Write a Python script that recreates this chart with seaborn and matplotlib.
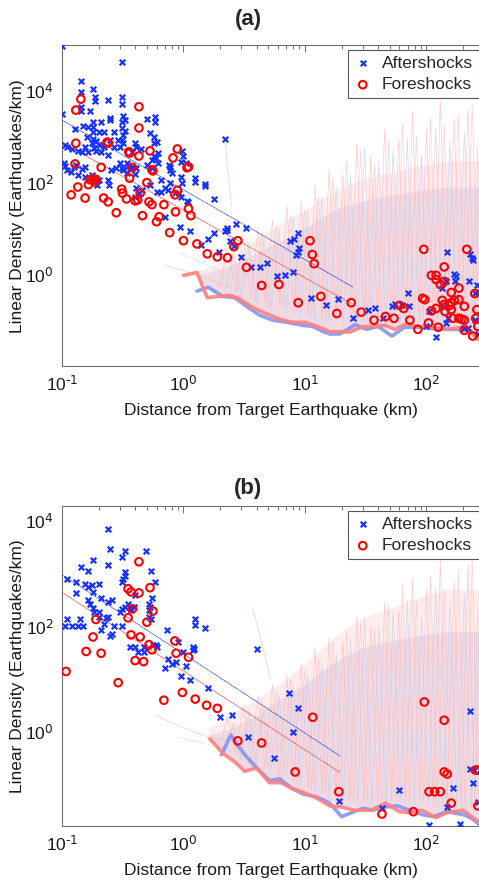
import matplotlib
matplotlib.use("Agg")
import matplotlib.pyplot as plt
import seaborn as sns
from matplotlib.ticker import FixedLocator, NullFormatter, LogLocator, FuncFormatter

# ---- panel (a) data ----
aft_a_x = [0.1, 0.31, 0.143, 0.18, 0.143, 0.187, 0.187, 0.24, 0.31, 0.31, 0.143, 0.143, 0.17, 0.1,
           0.5, 0.58, 0.58, 0.32, 0.33, 0.31, 0.25, 0.25, 0.21, 0.18, 0.15, 0.165, 0.18, 0.18, 0.128,
           0.2, 0.22, 0.27, 0.31, 0.33, 0.32, 0.53, 0.57, 0.6, 0.57, 0.16, 0.18, 0.19, 0.175, 0.2,
           0.155, 0.185, 0.22, 0.25, 0.29, 0.31, 0.32, 0.3, 0.27, 0.105, 0.11, 0.12, 0.135, 0.145,
           0.165, 0.19, 0.21, 0.24, 0.4, 0.41, 0.45, 0.38, 0.62, 0.57, 0.55, 0.59, 0.97, 1.0, 0.95,
           1.05, 0.76, 0.78, 0.3, 0.34, 0.35, 0.38, 0.41, 0.105, 0.125, 0.155, 0.145, 2.2,
           0.103, 0.11, 0.118, 0.13, 0.135, 0.155, 0.175, 0.18, 0.2, 0.195, 0.24, 0.245, 0.255, 0.28,
           0.31, 0.32, 0.36, 0.34, 0.4, 0.5, 0.55, 0.62, 0.77, 0.8, 0.65, 0.77, 0.95, 0.97, 0.53,
           0.6, 0.65, 0.7, 0.75, 0.85, 0.41, 0.46, 0.43, 0.4, 1.25, 1.5, 1.25, 1.5, 0.92, 0.95, 1.1,
           1.06, 1.8, 0.94, 1.13, 1.6, 1.4, 1.97, 2.3, 0.7,
           1.77, 2.2, 2.3, 2.7, 3.3, 2.4, 2.6, 3.0, 3.6, 4.3, 4.9, 5.9, 6.8, 7.9, 7.5, 8.2, 8.7, 9.0,
           8.5, 8.7, 11.2, 15,
           148, 230, 235, 240, 170, 175, 172, 145, 135, 225, 260, 250, 270, 70, 55, 52, 63, 72, 38,
           33, 25, 44, 18.6, 105, 100, 145, 150, 140, 120, 205, 220, 265, 250]
aft_a_y = [95000, 42600, 16400, 11000, 9500, 7400, 6000, 6300, 7400, 5200, 4500, 3650, 3650, 3100,
           2440, 2700, 2100, 2830, 2300, 2100, 2600, 2300, 2100, 2100, 1700, 1630, 1630, 1270, 1480,
           1270, 1270, 1270, 1550, 1330, 1090, 1210, 990, 770, 720, 990, 890, 800, 720, 660,
           600, 560, 600, 850, 850, 850, 720, 600, 600, 660, 600, 540, 490, 465,
           465, 490, 465, 400, 720, 600, 540, 465, 440, 380, 310, 345, 490, 380, 280,
           270, 240, 215, 270, 270, 230, 215, 205, 230, 215, 215, 200, 890,
           270, 185, 170, 240, 145, 130, 145, 125, 112, 87, 112, 87, 185, 205,
           205, 185, 205, 160, 155, 240, 205, 270, 185, 160, 112, 100, 130, 97, 87,
           63, 63, 76, 68, 59, 76, 68, 59, 49, 125, 93, 105, 85, 59, 49, 38,
           40, 44, 11, 8.7, 5.9, 4.4, 3.1, 9.3, 18,
           8.0, 8.6, 10, 12.6, 10, 5.2, 4.2, 2.35, 1.42, 1.42, 1.8, 0.9, 0.95, 1.1, 5.2, 5.9, 8.0, 3.7,
           2.6, 3.0, 0.3, 0.21,
           3.1, 2.8, 2.3, 2.1, 1.0, 0.9, 0.7, 0.72, 0.5, 0.72, 0.57, 0.4, 0.42, 0.4, 0.22, 0.2, 0.21,
           0.2, 0.18, 0.17, 0.11, 0.11, 0.29, 0.155, 0.074, 0.085, 0.11, 0.19, 0.043, 0.066, 0.066,
           0.05, 0.1]

fore_a_x = [0.143, 0.13, 0.43, 0.43, 0.13, 0.235, 0.24, 0.355, 0.36, 0.43, 0.53, 0.89, 0.82, 1.1,
            0.128, 0.21, 0.38, 0.55, 1.07, 0.56, 0.17, 0.18, 0.19, 0.185, 0.165, 0.36, 0.5, 0.135,
            0.119, 0.155, 0.22, 0.24, 0.31, 0.315, 0.34, 0.4, 0.42, 0.44, 0.52, 0.55, 0.28, 0.46,
            0.6, 0.63, 0.69, 0.86, 0.85, 0.89, 1.1, 1.15, 0.77, 1.0, 1.29, 1.57, 1.9, 2.3, 2.8,
            2.6, 3.3, 4.4, 6.1, 8.8, 13.5, 11, 11.5, 11.9, 24, 18.3, 29, 37, 46, 54, 60, 65, 73,
            85, 104, 95, 215, 140, 110, 120, 120, 140, 130, 93, 97, 110, 120, 125, 135, 140, 155,
            160, 142, 160, 160, 185, 170, 185, 205, 165, 185, 195, 205, 250, 260, 255, 265, 240, 205]
fore_a_y = [6600, 3800, 4500, 1550, 720, 760, 720, 470, 440, 380, 490, 540, 345, 220,
            255, 215, 215, 190, 210, 180, 115, 118, 118, 105, 90, 125, 100, 80,
            54, 46, 46, 38, 72, 59, 44, 40, 42, 59, 38, 33, 22, 19,
            14, 18, 33, 23, 54, 68, 27, 19, 8.1, 5.4, 4.6, 2.8, 2.4, 2.3, 5.4,
            4.0, 1.42, 0.57, 0.6, 0.24, 0.33, 5.4, 2.7, 1.7, 0.24, 0.14, 0.15, 0.1, 0.12, 0.11, 0.21,
            0.18, 0.1, 0.063, 0.087, 3.5, 3.5, 1.45, 0.95, 0.95, 0.77, 0.7, 0.6, 0.3, 0.28, 0.16,
            0.18, 0.07, 0.27, 0.22, 0.21, 0.24, 0.155, 0.17, 0.4, 0.5, 0.27, 0.28, 0.2, 0.11, 0.11,
            0.105, 0.1, 0.38, 0.17, 0.11, 0.073, 0.045, 0.06]

# power-law fits (end points)
fit_aft_a_x = [0.1, 25]
fit_aft_a_y = [2300, 0.52]
fit_fore_a_x = [0.11, 24]
fit_fore_a_y = [650, 0.23]

# background level from randomised catalogues (thick lines)
bg_fore_a_x = [1.0, 1.29, 1.57, 2.4, 2.9, 3.7, 4.9, 6.2, 7.9, 10, 12.6, 16, 23.5, 30, 36, 45.5,
               55, 70, 88, 106, 155, 200, 228, 265]
bg_fore_a_y = [0.95, 1.1, 0.31, 0.35, 0.29, 0.19, 0.135, 0.105, 0.09, 0.09, 0.073, 0.057, 0.055,
               0.073, 0.073, 0.077, 0.063, 0.085, 0.07, 0.07, 0.063, 0.07, 0.055, 0.038]
bg_aft_a_x = [1.29, 1.6, 2.1, 2.65, 3.3, 4.2, 5.4, 7.1, 9.6, 11.6, 14, 16, 19.4, 26, 32, 40, 52,
              66, 83, 106, 141, 178, 228, 270]
bg_aft_a_y = [0.43, 0.52, 0.33, 0.31, 0.2, 0.13, 0.1, 0.09, 0.077, 0.073, 0.057, 0.05, 0.05, 0.08,
              0.063, 0.073, 0.045, 0.07, 0.07, 0.066, 0.063, 0.063, 0.057, 0.045]

# spread of the individual random-catalogue curves
haze_a_x = [1.3, 1.6, 2, 2.5, 3, 4, 5, 7, 10, 14, 20, 30, 45, 70, 100, 150, 200, 280]
haze_a_lo = [0.9, 0.5, 0.35, 0.3, 0.25, 0.17, 0.13, 0.1, 0.085, 0.07, 0.06, 0.065, 0.07, 0.075,
             0.07, 0.065, 0.065, 0.045]
haze_a_mid = [1.0, 1.1, 1.3, 1.6, 2, 3, 4, 6, 10, 18, 30, 40, 50, 60, 70, 80, 80, 80]
haze_a_hi = [1.2, 1.4, 1.8, 2.5, 3.5, 6, 9, 15, 25, 45, 80, 120, 160, 200, 250, 300, 300, 300]

spike_x1 = [2.0, 2.3, 2.7, 3.1, 3.6, 4.1, 4.7, 5.4, 6.2, 7.1, 8.1, 9.3, 10.6, 12.1, 13.8, 15.8, 18,
            20.5, 23.4, 26.7, 30.5, 34.8, 39.7, 45.3, 51.7, 59, 67.3, 76.8, 87.6, 100, 114, 130,
            148, 169, 193, 220, 251, 275]
spike_x2 = [2.5, 2.9, 3.4, 3.9, 4.4, 5.0, 5.8, 6.6, 7.6, 8.7, 9.9, 11.3, 12.9, 14.8, 16.9, 19.3, 22,
            25.1, 28.7, 32.7, 37.4, 42.7, 48.7, 55.6, 63.5, 72.5, 82.7, 94.4, 108, 123, 140, 160,
            183, 209, 238, 268]
spike_x3 = [2.2, 2.6, 3.0, 3.5, 4.0, 4.6, 5.3, 6.1, 7.0, 8.0, 9.2, 10.5, 12.0, 13.8, 15.8, 18.1,
            20.7, 23.7, 27.1, 31, 35.5, 40.6, 46.5, 53.2, 60.8, 69.6, 79.6, 91.1, 104, 119, 136,
            156, 179, 205, 234, 265]
spike_fore_a1 = [0.5, 4, 0.4, 6, 0.3, 10, 0.25, 15, 0.2, 30, 0.15, 40, 0.12, 90, 0.1, 200, 0.1, 150,
                 0.09, 700, 0.09, 400, 0.08, 1500, 0.09, 900, 0.08, 3500, 0.09, 1500, 0.08, 6000,
                 0.09, 2500, 0.08, 4000, 0.09, 1200]
spike_fore_a2 = [3, 0.3, 5, 0.25, 8, 0.2, 12, 0.18, 20, 0.14, 25, 0.12, 50, 0.1, 120, 0.1, 300,
                 0.09, 500, 0.09, 250, 0.08, 800, 0.09, 2000, 0.08, 1000, 0.09, 2500, 0.08, 1800,
                 0.09, 3000, 0.08, 5000, 0.09]
spike_aft_a1 = [0.4, 3, 0.3, 4, 0.25, 6, 0.2, 10, 0.15, 18, 0.12, 25, 0.1, 50, 0.09, 80, 0.08, 150,
                0.08, 600, 0.08, 300, 0.07, 500, 0.08, 900, 0.07, 400, 0.08, 1500, 0.07, 800, 0.08,
                1200, 0.07, 600]

# a few stray random-catalogue curves starting left of the envelope
stray_a_x = [[0.68, 1.0, 1.6, 2.5], [0.9, 1.3, 2.0, 3.0], [2.2, 2.35, 2.5]]
stray_a_y = [[1.6, 1.2, 0.8, 0.5], [3.0, 2.0, 1.2, 0.6], [890, 120, 30]]

# ---- panel (b) data ----
aft_b_x = [0.24, 0.25, 0.33, 0.49, 0.31, 0.18, 0.24, 0.143, 0.164, 0.54, 0.33, 0.33, 0.32, 0.31,
           0.11, 0.13, 0.155, 0.175, 0.164, 0.2, 0.18, 0.58, 0.13, 0.21, 0.164, 0.17, 0.18, 0.185,
           0.2, 0.26, 0.24, 0.4, 0.35, 0.33, 0.36, 0.31, 0.3, 0.37, 0.39, 0.55, 0.52, 0.53, 0.52,
           0.54, 0.52, 0.11, 0.14, 0.105, 0.12, 0.135, 0.15, 0.2, 0.23, 0.24, 0.22, 0.21, 0.26,
           0.25, 0.27, 0.31, 1.25, 1.25, 1.5, 0.73, 0.36, 0.4, 0.47, 0.56, 0.59, 0.61, 0.42, 0.47,
           0.9, 1.0, 1.2, 1.22, 1.2, 0.75, 0.86, 0.8, 0.7, 1.05, 0.95, 1.13, 1.6, 2.0, 2.5, 4.0,
           3.4, 7.4, 8.7, 8.0, 5.6, 230, 60, 19, 43, 165, 148, 240, 245, 230, 105, 190, 265]
aft_b_y = [7050, 2950, 2700, 2700, 2080, 1830, 1470, 1340, 1130, 1130, 1080, 910, 800, 700,
           800, 700, 640, 610, 560, 640, 450, 700, 430, 350, 320, 260, 225, 190,
           190, 320, 290, 400, 270, 235, 225, 215, 190, 205, 230, 350, 270, 235, 205,
           140, 150, 140, 140, 100, 100, 100, 100, 150, 145, 150, 110, 87, 72,
           66, 100, 100, 140, 105, 95, 87, 41, 41, 41, 45, 45, 41, 32, 32,
           51, 32, 41, 38, 35, 24, 21.5, 19, 16, 18, 11.7, 9.5, 6.7, 1.9, 2.1, 37,
           0.8, 5.4, 2.9, 1.0, 0.32, 2.5, 0.08, 0.05, 0.037, 0.088, 0.038, 0.11, 0.19, 0.2, 0.017,
           0.018, 0.047]

fore_b_x = [0.43, 0.35, 0.37, 0.43, 0.53, 0.38, 0.56, 0.19, 0.35, 0.5, 0.18, 0.37, 0.44, 0.85,
            0.52, 0.55, 0.158, 0.21, 0.87, 1.1, 0.4, 0.47, 0.108, 0.29, 0.69, 0.98, 1.25, 1.55,
            1.9, 2.8, 4.4, 11.6, 8.3, 96, 140, 19, 140, 148, 105, 117, 130, 160, 255, 262, 265,
            43, 78]
fore_b_y = [1670, 515, 450, 430, 540, 215, 195, 135, 145, 120, 63, 69, 63, 53,
            45, 36, 33.5, 31, 31, 26, 22.5, 21.5, 14, 8.6, 4.0, 5.6, 4.2, 3.2,
            2.8, 0.68, 0.62, 1.9, 0.175, 3.7, 1.67, 0.074, 0.175, 0.16, 0.074, 0.074, 0.074, 0.045,
            0.19, 0.19, 0.04, 0.028, 0.031]

fit_aft_b_x = [0.1, 19.5]
fit_aft_b_y = [950, 0.35]
fit_fore_b_x = [0.1, 19.5]
fit_fore_b_y = [440, 0.17]

bg_fore_b_x = [1.65, 2.1, 2.65, 3.2, 4.0, 5.1, 6.4, 7.7, 10, 12.5, 16, 20, 26, 35, 46, 60, 70, 92,
               120, 148, 200, 240, 270]
bg_fore_b_y = [0.74, 0.4, 0.27, 0.18, 0.21, 0.11, 0.11, 0.087, 0.07, 0.056, 0.04, 0.038, 0.033,
               0.033, 0.045, 0.031, 0.03, 0.033, 0.024, 0.03, 0.033, 0.024, 0.02]
bg_aft_b_x = [2.05, 2.45, 2.7, 3.3, 4.0, 5.1, 6.2, 7.7, 9.6, 12.5, 16, 20, 30, 36, 45, 58, 72, 94,
              113, 148, 205, 237, 270]
bg_aft_b_y = [0.37, 0.88, 0.62, 0.34, 0.21, 0.12, 0.13, 0.087, 0.067, 0.059, 0.045, 0.025, 0.036,
              0.033, 0.038, 0.04, 0.033, 0.027, 0.025, 0.031, 0.027, 0.023, 0.018]

haze_b_x = [1.6, 2, 2.5, 3, 4, 5, 7, 10, 14, 20, 30, 45, 70, 100, 150, 200, 280]
haze_b_lo = [0.75, 0.45, 0.3, 0.22, 0.18, 0.13, 0.1, 0.07, 0.055, 0.042, 0.036, 0.038, 0.033, 0.03,
             0.028, 0.03, 0.02]
haze_b_mid = [0.9, 1.0, 1.2, 1.5, 2, 3, 5, 8, 15, 25, 40, 50, 60, 70, 80, 80, 80]
haze_b_hi = [1.2, 1.5, 2, 3, 4, 6, 10, 20, 40, 80, 150, 200, 300, 400, 500, 500, 500]

spike_fore_b1 = [0.5, 2, 0.4, 3, 0.3, 5, 0.2, 8, 0.15, 12, 0.1, 20, 0.08, 40, 0.07, 60, 0.06, 50,
                 0.05, 150, 0.05, 100, 0.045, 300, 0.05, 200, 0.04, 800, 0.05, 500, 0.04, 1800,
                 0.045, 700, 0.04, 1500, 0.045, 400]
spike_fore_b2 = [1.5, 0.3, 2.5, 0.25, 4, 0.2, 6, 0.15, 10, 0.1, 15, 0.08, 25, 0.07, 50, 0.06, 80,
                 0.05, 120, 0.05, 90, 0.045, 250, 0.05, 600, 0.04, 300, 0.045, 900, 0.04, 500,
                 0.045, 1200, 0.04, 2000, 0.045]
spike_aft_b1 = [0.4, 1.5, 0.3, 2.5, 0.25, 3, 0.2, 5, 0.14, 8, 0.1, 12, 0.08, 20, 0.06, 30, 0.05, 60,
                0.045, 150, 0.04, 100, 0.04, 200, 0.045, 300, 0.04, 150, 0.04, 500, 0.035, 300,
                0.04, 400, 0.035, 250]

stray_b_x = [[0.58, 1.0, 1.6, 2.8], [0.9, 1.5, 2.5, 4.0], [3.7, 4.5, 5.2]]
stray_b_y = [[2.1, 1.2, 0.8, 0.65], [0.8, 0.6, 0.45, 0.3], [230, 40, 10]]

AFT_COLOR = "#1533ff"
FORE_COLOR = "#ff0000"
FS = 12.5

sns.set_style("white")
plt.rcParams["font.family"] = ["Liberation Sans", "DejaVu Sans"]
plt.rcParams["mathtext.default"] = "regular"


def pow10_label(v, pos):
    # MATLAB-style "10^-1" with a plain hyphen in the exponent
    exp = int(round(__import__("math").log10(v)))
    return "$10^{\\text{%d}}$" % exp


def draw_panel(ax, d, ylim, yminor):
    ax.set_xscale("log")
    ax.set_yscale("log")

    # random catalogue curves: envelope + a few spiky traces
    ax.fill_between(d["haze_x"], d["haze_lo"], d["haze_hi"], color="#ffd9d9", alpha=0.45, lw=0, zorder=1)
    ax.fill_between(d["haze_x"], d["haze_lo"], d["haze_mid"], color="#f8c8d0", alpha=0.5, lw=0, zorder=1)
    ax.fill_between(d["haze_x"], d["haze_lo"], d["haze_mid"], color="#d4ddf4", alpha=0.3, lw=0, zorder=1)
    ax.plot(spike_x1, d["spk_f1"], color="#ffb4b4", lw=0.5, alpha=0.7, zorder=1.5)
    ax.plot(spike_x2, d["spk_f2"], color="#ffbcbc", lw=0.5, alpha=0.7, zorder=1.5)
    ax.plot(spike_x3, d["spk_a1"], color="#c4cff0", lw=0.5, alpha=0.8, zorder=1.5)
    for i, (sx, sy) in enumerate(zip(d["stray_x"], d["stray_y"])):
        ax.plot(sx, sy, color="#f7b0b0" if i != 1 else "#c8d2f0", lw=0.5, alpha=0.7, zorder=1.5)

    # thick background level lines
    sns.lineplot(x=d["bg_aft_x"], y=d["bg_aft_y"], color="#7e8ff0", lw=2.6, alpha=0.85,
                 sort=False, estimator=None, ax=ax, zorder=2)
    sns.lineplot(x=d["bg_fore_x"], y=d["bg_fore_y"], color="#ff8080", lw=2.6, alpha=0.9,
                 sort=False, estimator=None, ax=ax, zorder=2.1)

    # power-law fits
    sns.lineplot(x=d["fit_aft_x"], y=d["fit_aft_y"], color="#3048d0", lw=0.6, ls=(0, (2, 0.6)),
                 sort=False, estimator=None, ax=ax, zorder=3)
    sns.lineplot(x=d["fit_fore_x"], y=d["fit_fore_y"], color="#f04848", lw=0.6, ls=(0, (2, 0.6)),
                 sort=False, estimator=None, ax=ax, zorder=3)

    # observed densities
    sns.scatterplot(x=d["aft_x"], y=d["aft_y"], marker="x", s=16, color=AFT_COLOR, linewidth=1.6,
                    label="Aftershocks", ax=ax, zorder=4)
    sns.scatterplot(x=d["fore_x"], y=d["fore_y"], marker="o", s=30, facecolor="none",
                    edgecolor=FORE_COLOR, linewidth=1.5, label="Foreshocks", ax=ax, zorder=5)

    ax.set_xlim(0.1, 403)
    ax.set_ylim(*ylim)
    ax.set_xlabel("")
    ax.set_ylabel("")

    ax.xaxis.set_major_locator(LogLocator(base=10, numticks=10))
    ax.xaxis.set_major_formatter(FuncFormatter(pow10_label))
    ax.yaxis.set_major_locator(FixedLocator([1, 100, 1e4]))
    ax.yaxis.set_major_formatter(FuncFormatter(pow10_label))
    ax.yaxis.set_minor_locator(FixedLocator(yminor))
    ax.yaxis.set_minor_formatter(NullFormatter())
    ax.tick_params(which="both", direction="in", top=True, right=True, colors="#6e6e6e",
                   labelcolor="#1a1a1a", labelsize=FS, width=0.7)
    ax.tick_params(which="major", length=5, pad=6)
    ax.tick_params(which="minor", length=2.8)
    for sp in ax.spines.values():
        sp.set_color("#6e6e6e")
        sp.set_linewidth(0.8)

    leg = ax.legend(loc="upper left", bbox_to_anchor=(0.653, 0.985), fontsize=FS, frameon=True,
                    fancybox=False, framealpha=1, edgecolor="#555555", handlelength=1.0,
                    handletextpad=0.6, borderpad=0.35, labelspacing=0.35, borderaxespad=0)
    leg.get_frame().set_linewidth(0.8)


fig = plt.figure(figsize=(4.79, 8.82), dpi=100)
ax_a = fig.add_axes([0.1294, 0.585, 0.9144, 0.364])
ax_b = fig.add_axes([0.1294, 0.0635, 0.9144, 0.3628])

panel_a = dict(aft_x=aft_a_x, aft_y=aft_a_y, fore_x=fore_a_x, fore_y=fore_a_y,
               fit_aft_x=fit_aft_a_x, fit_aft_y=fit_aft_a_y, fit_fore_x=fit_fore_a_x, fit_fore_y=fit_fore_a_y,
               bg_aft_x=bg_aft_a_x, bg_aft_y=bg_aft_a_y, bg_fore_x=bg_fore_a_x, bg_fore_y=bg_fore_a_y,
               haze_x=haze_a_x, haze_lo=haze_a_lo, haze_mid=haze_a_mid, haze_hi=haze_a_hi,
               spk_f1=spike_fore_a1, spk_f2=spike_fore_a2, spk_a1=spike_aft_a1,
               stray_x=stray_a_x, stray_y=stray_a_y)
panel_b = dict(aft_x=aft_b_x, aft_y=aft_b_y, fore_x=fore_b_x, fore_y=fore_b_y,
               fit_aft_x=fit_aft_b_x, fit_aft_y=fit_aft_b_y, fit_fore_x=fit_fore_b_x, fit_fore_y=fit_fore_b_y,
               bg_aft_x=bg_aft_b_x, bg_aft_y=bg_aft_b_y, bg_fore_x=bg_fore_b_x, bg_fore_y=bg_fore_b_y,
               haze_x=haze_b_x, haze_lo=haze_b_lo, haze_mid=haze_b_mid, haze_hi=haze_b_hi,
               spk_f1=spike_fore_b1, spk_f2=spike_fore_b2, spk_a1=spike_aft_b1,
               stray_x=stray_b_x, stray_y=stray_b_y)

draw_panel(ax_a, panel_a, (0.01, 1e5), [0.1, 10, 1000, 1e5])
draw_panel(ax_b, panel_b, (0.0166, 19000), [0.1, 10, 1000])

# titles and labels placed in figure coordinates
fig.text(248 / 479, 1 - 20 / 882, "(a)", ha="center", va="center", fontsize=16, fontweight="bold")
fig.text(248 / 479, 1 - 489 / 882, "(b)", ha="center", va="center", fontsize=16, fontweight="bold")
for yc, xl in [(206, 410), (666, 870)]:
    fig.text(18 / 479, 1 - yc / 882, "Linear Density (Earthquakes/km)", rotation=90,
             ha="center", va="center", fontsize=FS, color="#1a1a1a")
    fig.text(271 / 479, 1 - xl / 882, "Distance from Target Earthquake (km)",
             ha="center", va="center", fontsize=FS, color="#1a1a1a")

fig.savefig("out.png", dpi=100)
